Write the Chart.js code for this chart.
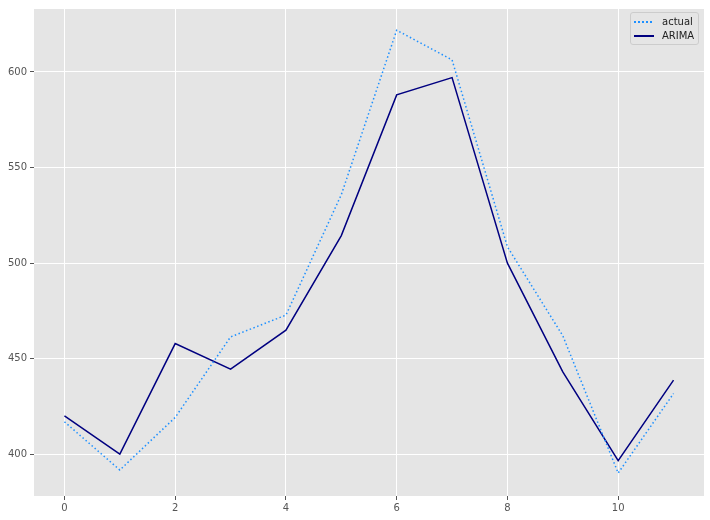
<!DOCTYPE html>
<html>
<head>
<meta charset="utf-8">
<script src="https://cdn.jsdelivr.net/npm/chart.js@4/dist/chart.umd.min.js"></script>
<style>
  html, body { margin: 0; padding: 0; background: #fff; }
  #wrap { position: relative; width: 710px; height: 520px; }
  #legend {
    position: absolute; left: 630px; top: 12px; width: 67px; height: 31px;
    border: 1px solid #cccccc; border-radius: 3px; background: rgba(229,229,229,0.8);
    font: 10px "DejaVu Sans", sans-serif; color: #222;
  }
  .row { position: absolute; left: 3px; height: 12px; width: 64px; }
  .row .sw { position: absolute; left: 0; top: 5px; width: 20px; height: 2px; }
  .row span { position: absolute; left: 28px; top: 0; line-height: 12px; }
</style>
</head>
<body>
<div id="wrap">
  <canvas id="chart" width="710" height="520"></canvas>
  <div id="legend">
    <div class="row" style="top:3px"><div class="sw" style="background:repeating-linear-gradient(90deg,#1E90FF 0 2px,transparent 2px 4px)"></div><span>actual</span></div>
    <div class="row" style="top:17px"><div class="sw" style="background:#000080;height:1.5px"></div><span>ARIMA</span></div>
  </div>
</div>
<script>
'use strict';

const steps = [0, 1, 2, 3, 4, 5, 6, 7, 8, 9, 10, 11];
const actual = [417.0, 391.8, 419.3, 461.4, 472.8, 535.8, 621.8, 606.3, 508.5, 462.0, 390.2, 431.8];
const arima = [420.1, 400.1, 457.9, 444.5, 464.9, 514.4, 588.0, 597.0, 500.0, 443.1, 396.7, 438.8];
const xTicks = [0, 2, 4, 6, 8, 10];
const yTicks = [400, 450, 500, 550, 600];

const plotBg = {
  id: 'plotBg',
  beforeDraw(chart) {
    const { ctx, chartArea: a } = chart;
    ctx.save();
    ctx.fillStyle = '#E5E5E5';
    ctx.fillRect(a.left, a.top, a.right - a.left, a.bottom - a.top);
    ctx.restore();
  }
};

const tickFont = { family: 'DejaVu Sans', size: 10 };

new Chart(document.getElementById('chart'), {
  type: 'line',
  data: {
    datasets: [
      {
        label: 'actual',
        data: steps.map((s, i) => ({ x: s, y: actual[i] })),
        borderColor: '#1E90FF',
        borderWidth: 1.5,
        borderDash: [1.5, 2.5],
        pointRadius: 0, tension: 0, fill: false
      },
      {
        label: 'ARIMA',
        data: steps.map((s, i) => ({ x: s, y: arima[i] })),
        borderColor: '#000080',
        borderWidth: 1.5,
        pointRadius: 0, tension: 0, fill: false
      }
    ]
  },
  options: {
    responsive: false,
    animation: false,
    layout: { padding: { top: 8, right: 6, left: 0, bottom: 0 } },
    plugins: { legend: { display: false }, tooltip: { enabled: false } },
    scales: {
      x: {
        type: 'linear', min: -0.55, max: 11.55,
        afterBuildTicks: s => { s.ticks = xTicks.map(v => ({ value: v })); },
        afterFit: s => { s.height = 24; },
        border: { display: false },
        grid: { color: '#ffffff', lineWidth: 1, tickColor: '#555555', tickLength: 4 },
        ticks: { color: '#555555', font: tickFont, padding: 2, maxRotation: 0 }
      },
      y: {
        type: 'linear', min: 378.2, max: 632.9,
        afterBuildTicks: s => { s.ticks = yTicks.map(v => ({ value: v })); },
        afterFit: s => { s.width = 34; },
        border: { display: false },
        grid: { color: '#ffffff', lineWidth: 1, tickColor: '#555555', tickLength: 4 },
        ticks: { color: '#555555', font: tickFont, padding: 3 }
      }
    }
  },
  plugins: [plotBg]
});
</script>
</body>
</html>
